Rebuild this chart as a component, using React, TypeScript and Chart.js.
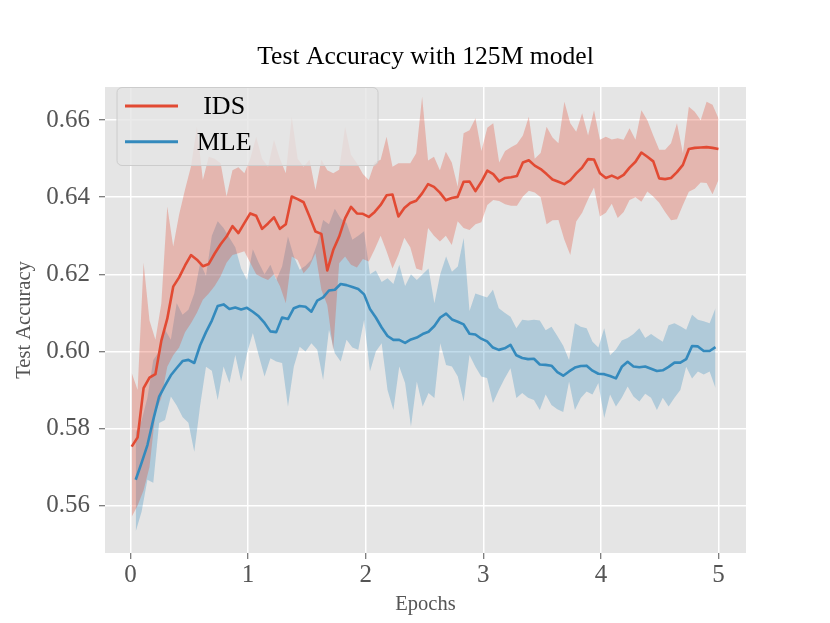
import React, { useEffect, useRef } from 'react';
import { Chart, registerables } from 'chart.js';

Chart.register(...registerables);

// test accuracy per evaluation step
const idsMean = [
  0.5753, 0.5777, 0.5905, 0.5932, 0.5941, 0.6028, 0.6085, 0.6168, 0.6192, 0.6223,
  0.6250, 0.6238, 0.6221, 0.6227, 0.6254, 0.6278, 0.6298, 0.6325, 0.6307, 0.6333,
  0.6358, 0.6352, 0.6318, 0.6332, 0.6348, 0.6318, 0.6330, 0.6402, 0.6395, 0.6387,
  0.6350, 0.6311, 0.6305, 0.6210, 0.6263, 0.6298, 0.6345, 0.6375, 0.6358, 0.6357,
  0.6349, 0.6362, 0.6380, 0.6405, 0.6407, 0.6350, 0.6372, 0.6385, 0.6391, 0.6410,
  0.6434, 0.6427, 0.6412, 0.6392, 0.6398, 0.6401, 0.6440, 0.6441, 0.6416, 0.6440,
  0.6469, 0.6460, 0.6441, 0.6450, 0.6452, 0.6455, 0.6490, 0.6496, 0.6482, 0.6473,
  0.6460, 0.6446, 0.6440, 0.6434, 0.6444, 0.6462, 0.6477, 0.6499, 0.6498, 0.6462,
  0.6450, 0.6456, 0.6449, 0.6458, 0.6477, 0.6492, 0.6516, 0.6505, 0.6493, 0.6449,
  0.6447, 0.6450, 0.6465, 0.6484, 0.6525, 0.6528, 0.6529, 0.6530, 0.6528, 0.6525,
];
const idsUpper = [
  0.5944, 0.5900, 0.6230, 0.6080, 0.6030, 0.6125, 0.6376, 0.6272, 0.6355, 0.6420,
  0.6480, 0.6583, 0.6445, 0.6505, 0.6500, 0.6488, 0.6402, 0.6470, 0.6478, 0.6462,
  0.6500, 0.6557, 0.6500, 0.6479, 0.6549, 0.6500, 0.6462, 0.6609, 0.6500, 0.6479,
  0.6497, 0.6419, 0.6497, 0.6470, 0.6462, 0.6471, 0.6583, 0.6510, 0.6488, 0.6460,
  0.6445, 0.6490, 0.6497, 0.6557, 0.6479, 0.6488, 0.6488, 0.6488, 0.6514, 0.6661,
  0.6495, 0.6505, 0.6470, 0.6518, 0.6490, 0.6427, 0.6566, 0.6574, 0.6605, 0.6520,
  0.6580, 0.6592, 0.6490, 0.6520, 0.6530, 0.6538, 0.6560, 0.6609, 0.6500, 0.6515,
  0.6583, 0.6555, 0.6540, 0.6648, 0.6592, 0.6570, 0.6618, 0.6560, 0.6626, 0.6549,
  0.6557, 0.6550, 0.6553, 0.6549, 0.6579, 0.6549, 0.6626, 0.6600, 0.6560, 0.6523,
  0.6523, 0.6540, 0.6592, 0.6514, 0.6635, 0.6622, 0.6600, 0.6648, 0.6640, 0.6605,
];
const idsLower = [
  0.5571, 0.5600, 0.5640, 0.5700, 0.5840, 0.5880, 0.5960, 0.5990, 0.6010, 0.6050,
  0.6073, 0.6100, 0.6134, 0.6150, 0.6170, 0.6195, 0.6230, 0.6250, 0.6255, 0.6260,
  0.6230, 0.6200, 0.6192, 0.6185, 0.6200, 0.6170, 0.6125, 0.6246, 0.6237, 0.6203,
  0.6220, 0.6255, 0.6160, 0.6120, 0.6004, 0.6229, 0.6246, 0.6225, 0.6218, 0.6240,
  0.6233, 0.6265, 0.6300, 0.6260, 0.6215, 0.6250, 0.6295, 0.6270, 0.6215, 0.6210,
  0.6320, 0.6300, 0.6285, 0.6300, 0.6276, 0.6338, 0.6320, 0.6315, 0.6330, 0.6335,
  0.6380, 0.6393, 0.6390, 0.6382, 0.6378, 0.6378, 0.6402, 0.6417, 0.6412, 0.6400,
  0.6330, 0.6340, 0.6341, 0.6290, 0.6250, 0.6337, 0.6360, 0.6395, 0.6425, 0.6350,
  0.6360, 0.6383, 0.6346, 0.6362, 0.6393, 0.6400, 0.6388, 0.6415, 0.6402, 0.6386,
  0.6362, 0.6340, 0.6343, 0.6380, 0.6414, 0.6422, 0.6438, 0.6437, 0.6408, 0.6445,
];

const mleMean = [
  0.5667, 0.5711, 0.5757, 0.5823, 0.5883, 0.5911, 0.5938, 0.5957, 0.5975, 0.5978,
  0.5970, 0.6016, 0.6050, 0.6080, 0.6118, 0.6122, 0.6110, 0.6114, 0.6109, 0.6113,
  0.6103, 0.6091, 0.6074, 0.6052, 0.6050, 0.6088, 0.6084, 0.6112, 0.6118, 0.6116,
  0.6103, 0.6132, 0.6140, 0.6158, 0.6160, 0.6175, 0.6172, 0.6167, 0.6162, 0.6148,
  0.6110, 0.6088, 0.6062, 0.6040, 0.6030, 0.6030, 0.6022, 0.6031, 0.6036, 0.6045,
  0.6051, 0.6066, 0.6088, 0.6098, 0.6083, 0.6077, 0.6070, 0.6046, 0.6044, 0.6033,
  0.6026, 0.6010, 0.6004, 0.6008, 0.6017, 0.5990, 0.5983, 0.5980, 0.5981, 0.5966,
  0.5965, 0.5963, 0.5946, 0.5937, 0.5948, 0.5958, 0.5962, 0.5963, 0.5950, 0.5942,
  0.5941, 0.5936, 0.5930, 0.5960, 0.5973, 0.5961, 0.5959, 0.5961, 0.5955, 0.5949,
  0.5951, 0.5960, 0.5971, 0.5971, 0.5980, 0.6014, 0.6013, 0.6001, 0.6001, 0.6011,
];
const mleUpper = [
  0.5790, 0.5820, 0.5880, 0.5978, 0.6000, 0.6056, 0.6030, 0.6125, 0.6095, 0.6108,
  0.6150, 0.6229, 0.6196, 0.6300, 0.6338, 0.6320, 0.6295, 0.6270, 0.6215, 0.6185,
  0.6265, 0.6230, 0.6200, 0.6225, 0.6185, 0.6220, 0.6298, 0.6246, 0.6212, 0.6222,
  0.6238, 0.6280, 0.6341, 0.6330, 0.6370, 0.6345, 0.6333, 0.6290, 0.6300, 0.6312,
  0.6200, 0.6210, 0.6180, 0.6190, 0.6175, 0.6225, 0.6170, 0.6200, 0.6185, 0.6200,
  0.6215, 0.6125, 0.6200, 0.6246, 0.6207, 0.6220, 0.6294, 0.6105, 0.6150, 0.6145,
  0.6140, 0.6160, 0.6112, 0.6100, 0.6090, 0.6060, 0.6082, 0.6080, 0.6082, 0.6080,
  0.6055, 0.6064, 0.6040, 0.6015, 0.5978, 0.6073, 0.6064, 0.6060, 0.6025, 0.6010,
  0.6060, 0.5990, 0.6005, 0.6028, 0.6035, 0.6045, 0.6060, 0.6035, 0.6045, 0.6035,
  0.6025, 0.6068, 0.6073, 0.6065, 0.6056, 0.6095, 0.6082, 0.6078, 0.6073, 0.6112,
];
const mleLower = [
  0.5533, 0.5584, 0.5667, 0.5659, 0.5814, 0.5822, 0.5883, 0.5860, 0.5830, 0.5815,
  0.5740, 0.5860, 0.5960, 0.5950, 0.5874, 0.5961, 0.5918, 0.5991, 0.5922, 0.5995,
  0.6048, 0.5990, 0.5935, 0.5982, 0.5974, 0.5970, 0.5857, 0.5961, 0.6012, 0.6000,
  0.6021, 0.6004, 0.5926, 0.6056, 0.5995, 0.5974, 0.6030, 0.6010, 0.6004, 0.6082,
  0.5948, 0.6000, 0.6021, 0.5900, 0.5848, 0.5961, 0.5918, 0.5805, 0.5922, 0.5857,
  0.5892, 0.5879, 0.6021, 0.5965, 0.5961, 0.5935, 0.5870, 0.5991, 0.5960, 0.5935,
  0.5931, 0.5866, 0.5900, 0.5930, 0.5956, 0.5879, 0.5892, 0.5880, 0.5874, 0.5848,
  0.5888, 0.5861, 0.5850, 0.5843, 0.5922, 0.5848, 0.5879, 0.5896, 0.5888, 0.5918,
  0.5827, 0.5888, 0.5857, 0.5880, 0.5909, 0.5883, 0.5870, 0.5890, 0.5880, 0.5848,
  0.5880, 0.5857, 0.5880, 0.5900, 0.5960, 0.5930, 0.5948, 0.5940, 0.5948, 0.5905,
];

// evaluation steps are evenly spaced in epochs
const idsEpochStart = 0.0102;
const idsEpochStep = 0.0504;
const mleEpochStart = 0.0442;
const mleEpochStep = 0.0498;

const xTicks = [0, 1, 2, 3, 4, 5];
const yTicks = [0.56, 0.58, 0.6, 0.62, 0.64, 0.66];
const seriesLabels = [' IDS', 'MLE'];
const chartTitle = 'Test Accuracy with 125M model';

const RED = '#E24A33';
const BLUE = '#348ABD';
const SERIF = "'Liberation Serif', 'Times New Roman', serif";

const toPoints = (vals: number[], start: number, step: number) =>
  vals.map((y, i) => ({ x: start + i * step, y }));

// ggplot-ish panel, title and legend
const ggplotDecor = {
  id: 'ggplotDecor',
  beforeDraw(chart: Chart) {
    const { ctx, chartArea: a } = chart;
    ctx.save();
    ctx.fillStyle = '#E5E5E5';
    ctx.fillRect(a.left, a.top, a.right - a.left, a.bottom - a.top);
    ctx.restore();
  },
  afterDraw(chart: Chart) {
    const { ctx, chartArea: a } = chart;
    ctx.save();
    // title
    ctx.fillStyle = '#000000';
    ctx.font = `25.6px ${SERIF}`;
    ctx.textAlign = 'center';
    ctx.textBaseline = 'alphabetic';
    ctx.fillText(chartTitle, (a.left + a.right) / 2, 63.5);

    // legend box
    const bx = 117, by = 87.5, bw = 261, bh = 78, r = 5;
    ctx.beginPath();
    ctx.moveTo(bx + r, by);
    ctx.arcTo(bx + bw, by, bx + bw, by + bh, r);
    ctx.arcTo(bx + bw, by + bh, bx, by + bh, r);
    ctx.arcTo(bx, by + bh, bx, by, r);
    ctx.arcTo(bx, by, bx + bw, by, r);
    ctx.closePath();
    ctx.fillStyle = 'rgba(229,229,229,0.8)';
    ctx.fill();
    ctx.strokeStyle = '#CCCCCC';
    ctx.lineWidth = 1;
    ctx.stroke();

    const rows = [
      { label: seriesLabels[0], color: RED, y: 106 },
      { label: seriesLabels[1], color: BLUE, y: 141.7 },
    ];
    ctx.font = `26px ${SERIF}`;
    ctx.textAlign = 'left';
    ctx.textBaseline = 'middle';
    rows.forEach((row) => {
      ctx.beginPath();
      ctx.moveTo(125, row.y);
      ctx.lineTo(178, row.y);
      ctx.strokeStyle = row.color;
      ctx.lineWidth = 3;
      ctx.stroke();
      ctx.fillStyle = '#000000';
      ctx.fillText(row.label, 196.7, row.y + 1.5);
    });
    ctx.restore();
  },
};

const App: React.FC = () => {
  const chartRef = useRef<HTMLCanvasElement | null>(null);
  const chartInstance = useRef<Chart | null>(null);

  useEffect(() => {
    document.body.style.margin = '0';
    if (!chartRef.current) return;
    if (chartInstance.current) chartInstance.current.destroy();

    const line = (data: { x: number; y: number }[], color: string) => ({
      data,
      borderColor: color,
      borderWidth: 2.6,
      borderJoinStyle: 'round' as const,
      pointRadius: 0,
      fill: false,
      tension: 0,
    });
    const band = (data: { x: number; y: number }[], fillColor: string, fill: any) => ({
      data,
      borderWidth: 0,
      borderColor: 'rgba(0,0,0,0)',
      backgroundColor: fillColor,
      pointRadius: 0,
      fill,
      tension: 0,
    });

    const gridStyle = {
      color: '#FFFFFF',
      lineWidth: 1.5,
      tickColor: '#555555',
      tickLength: 6,
      tickWidth: 1,
    };

    chartInstance.current = new Chart(chartRef.current, {
      type: 'line',
      data: {
        datasets: [
          line(toPoints(idsMean, idsEpochStart, idsEpochStep), RED),
          line(toPoints(mleMean, mleEpochStart, mleEpochStep), BLUE),
          band(toPoints(idsUpper, idsEpochStart, idsEpochStep), 'rgba(226,74,51,0.3)', '+1'),
          band(toPoints(idsLower, idsEpochStart, idsEpochStep), 'rgba(0,0,0,0)', false),
          band(toPoints(mleUpper, mleEpochStart, mleEpochStep), 'rgba(52,138,189,0.3)', '+1'),
          band(toPoints(mleLower, mleEpochStart, mleEpochStep), 'rgba(0,0,0,0)', false),
        ] as any,
      },
      options: {
        responsive: false,
        animation: false,
        events: [],
        layout: { padding: { top: 87, right: 84, left: 0, bottom: 0 } },
        plugins: {
          legend: { display: false },
          title: { display: false },
          tooltip: { enabled: false },
        },
        scales: {
          x: {
            type: 'linear',
            min: -0.217,
            max: 5.234,
            afterBuildTicks: (s: any) => {
              s.ticks = xTicks.map((v) => ({ value: v }));
            },
            afterFit: (s: any) => {
              s.height = 70;
            },
            grid: gridStyle,
            border: { display: false },
            ticks: {
              color: '#555555',
              font: { family: SERIF, size: 25 },
              padding: 1,
              maxRotation: 0,
              callback: (v: any) => String(v),
            },
            title: {
              display: true,
              text: 'Epochs',
              color: '#555555',
              font: { family: SERIF, size: 20.5 },
              padding: { top: 0, bottom: 6 },
            },
          },
          y: {
            type: 'linear',
            min: 0.5477,
            max: 0.6686,
            afterBuildTicks: (s: any) => {
              s.ticks = yTicks.map((v) => ({ value: v }));
            },
            afterFit: (s: any) => {
              s.width = 105;
            },
            grid: gridStyle,
            border: { display: false },
            ticks: {
              color: '#555555',
              font: { family: SERIF, size: 25 },
              padding: 9,
              callback: (v: any) => Number(v).toFixed(2),
            },
            title: {
              display: true,
              text: 'Test Accuracy',
              color: '#555555',
              font: { family: SERIF, size: 20.5 },
              padding: { top: 12, bottom: 0 },
            },
          },
        },
      },
      plugins: [ggplotDecor],
    });

    return () => {
      if (chartInstance.current) {
        chartInstance.current.destroy();
        chartInstance.current = null;
      }
    };
  }, []);

  return (
    <div style={{ width: 830, height: 623, background: '#FFFFFF' }}>
      <canvas ref={chartRef} width={830} height={623} style={{ width: 830, height: 623 }} />
    </div>
  );
};

export default App;
